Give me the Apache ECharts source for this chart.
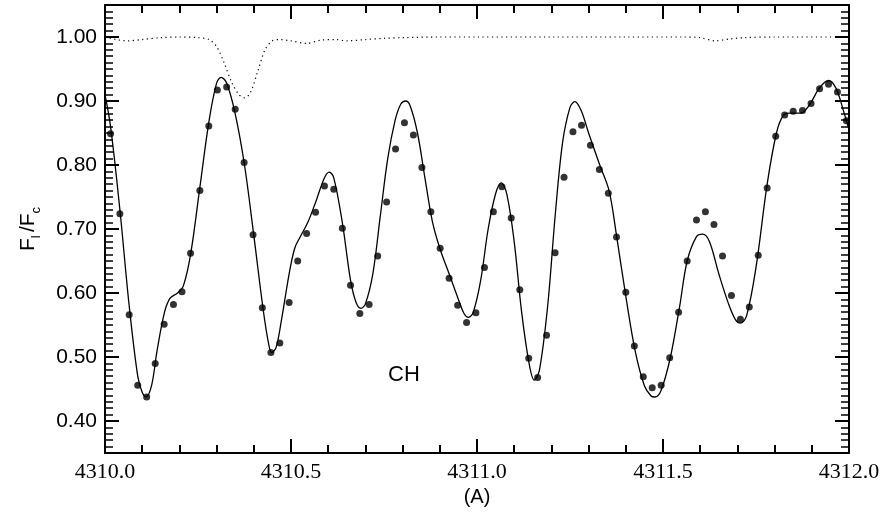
<!DOCTYPE html>
<html>
<head>
<meta charset="utf-8">
<script src="https://cdn.jsdelivr.net/npm/echarts@6/dist/echarts.min.js"></script>
<style>html,body{margin:0;padding:0;background:#fff}#c{width:890px;height:518px}</style>
</head>
<body>
<div id="c"></div>
<script>
// Observed spectrum (dots)
const obsX = [4310.015,4310.040,4310.065,4310.088,4310.112,4310.135,4310.159,4310.184,4310.207,4310.230,4310.255,4310.279,4310.302,4310.327,4310.350,4310.374,4310.398,4310.423,4310.446,4310.470,4310.495,4310.518,4310.542,4310.566,4310.590,4310.615,4310.638,4310.660,4310.685,4310.710,4310.733,4310.757,4310.781,4310.805,4310.829,4310.852,4310.876,4310.901,4310.925,4310.948,4310.972,4310.997,4311.020,4311.044,4311.067,4311.092,4311.115,4311.139,4311.163,4311.187,4311.210,4311.234,4311.258,4311.281,4311.305,4311.329,4311.353,4311.375,4311.400,4311.423,4311.447,4311.471,4311.495,4311.518,4311.542,4311.565,4311.590,4311.614,4311.637,4311.660,4311.684,4311.708,4311.732,4311.756,4311.780,4311.803,4311.827,4311.850,4311.875,4311.898,4311.921,4311.945,4311.969,4311.993];
const obsY = [0.849,0.724,0.566,0.456,0.4375,0.490,0.551,0.582,0.602,0.662,0.760,0.861,0.917,0.922,0.887,0.804,0.691,0.577,0.507,0.522,0.585,0.650,0.693,0.726,0.767,0.762,0.701,0.612,0.568,0.582,0.658,0.742,0.825,0.866,0.847,0.796,0.727,0.670,0.623,0.581,0.554,0.569,0.640,0.727,0.766,0.717,0.605,0.498,0.468,0.534,0.663,0.781,0.852,0.862,0.831,0.793,0.756,0.6875,0.601,0.517,0.469,0.452,0.456,0.499,0.570,0.650,0.714,0.727,0.707,0.658,0.596,0.559,0.578,0.659,0.764,0.845,0.878,0.884,0.885,0.896,0.919,0.926,0.914,0.869];

// Synthetic spectrum (solid line)
const synX = [4310.000,4310.015,4310.040,4310.065,4310.088,4310.100,4310.110,4310.125,4310.140,4310.160,4310.175,4310.195,4310.210,4310.230,4310.255,4310.280,4310.300,4310.312,4310.327,4310.350,4310.375,4310.400,4310.425,4310.440,4310.448,4310.460,4310.475,4310.495,4310.510,4310.525,4310.545,4310.565,4310.590,4310.603,4310.615,4310.638,4310.660,4310.675,4310.688,4310.700,4310.720,4310.740,4310.760,4310.780,4310.795,4310.808,4310.820,4310.840,4310.860,4310.880,4310.900,4310.925,4310.950,4310.965,4310.977,4310.990,4311.010,4311.030,4311.050,4311.065,4311.080,4311.100,4311.120,4311.140,4311.154,4311.168,4311.190,4311.210,4311.230,4311.250,4311.263,4311.280,4311.300,4311.330,4311.355,4311.375,4311.400,4311.425,4311.450,4311.468,4311.478,4311.495,4311.520,4311.545,4311.565,4311.590,4311.607,4311.625,4311.650,4311.675,4311.695,4311.709,4311.725,4311.750,4311.780,4311.805,4311.823,4311.840,4311.870,4311.895,4311.920,4311.945,4311.965,4311.985,4312.000];
const synY = [0.910,0.860,0.730,0.580,0.470,0.445,0.438,0.455,0.510,0.570,0.592,0.600,0.610,0.660,0.765,0.870,0.928,0.937,0.928,0.880,0.800,0.690,0.575,0.520,0.507,0.515,0.560,0.630,0.670,0.688,0.710,0.740,0.780,0.789,0.780,0.710,0.620,0.585,0.576,0.583,0.630,0.720,0.810,0.870,0.895,0.900,0.893,0.850,0.780,0.712,0.670,0.630,0.590,0.568,0.562,0.570,0.620,0.700,0.755,0.772,0.755,0.680,0.570,0.490,0.464,0.480,0.580,0.720,0.835,0.890,0.899,0.885,0.850,0.800,0.760,0.690,0.595,0.510,0.455,0.439,0.4375,0.448,0.500,0.580,0.650,0.688,0.692,0.680,0.630,0.585,0.558,0.553,0.565,0.640,0.770,0.850,0.877,0.881,0.881,0.895,0.920,0.932,0.920,0.885,0.855];

// Reference spectrum (dotted line)
const telX = [4310.00,4310.03,4310.06,4310.10,4310.15,4310.20,4310.25,4310.28,4310.30,4310.32,4310.34,4310.36,4310.375,4310.39,4310.41,4310.43,4310.45,4310.47,4310.50,4310.54,4310.58,4310.62,4310.65,4310.70,4310.75,4310.80,4310.90,4311.00,4311.20,4311.40,4311.55,4311.60,4311.64,4311.68,4311.72,4311.80,4312.00];
const telY = [1.000,0.996,0.994,0.996,0.999,1.000,0.999,0.996,0.985,0.960,0.930,0.910,0.905,0.912,0.945,0.980,0.994,0.996,0.994,0.990,0.995,0.996,0.994,0.996,0.998,0.999,1.000,1.000,1.000,1.000,1.000,0.999,0.994,0.997,0.999,1.000,1.000];

// Axis ticks / labels
const xMin = 4310.0, xMax = 4312.0;
const xMajorTicks = [4310.0, 4310.5, 4311.0, 4311.5, 4312.0];
const xMinorStep = 0.1;
const yMin = 0.35, yMax = 1.05;
const yMajorTicks = [0.40, 0.50, 0.60, 0.70, 0.80, 0.90, 1.00];
const yMinorStep = 0.01;
const annotation = 'CH';

const zip = (a, b) => a.map((v, i) => [v, b[i]]);
const chart = echarts.init(document.getElementById('c'), null, {renderer: 'canvas'});

const tickLine = {color: '#000', width: 2};
const majorX = (pos, show) => ({
  type: 'value', min: xMin, max: xMax, position: pos,
  axisLine: {show: true, onZero: false, lineStyle: {color: '#000', width: 2}},
  axisTick: {show: true, inside: true, length: 14, customValues: xMajorTicks, lineStyle: tickLine},
  minorTick: {show: false},
  splitLine: {show: false},
  axisLabel: {show: show, margin: 8, color: '#000', fontFamily: 'Liberation Serif, serif', fontSize: 22,
    customValues: xMajorTicks, formatter: v => v.toFixed(1)}
});
const minorX = (pos) => ({
  type: 'value', min: xMin, max: xMax, interval: xMinorStep, position: pos,
  axisLine: {show: false, onZero: false},
  axisTick: {show: true, inside: true, length: 8, lineStyle: tickLine},
  minorTick: {show: false},
  splitLine: {show: false}, axisLabel: {show: false}
});
const majorY = (pos, show) => ({
  type: 'value', min: yMin, max: yMax, position: pos,
  axisLine: {show: true, onZero: false, lineStyle: {color: '#000', width: 2}},
  axisTick: {show: true, inside: true, length: 14, customValues: yMajorTicks, lineStyle: tickLine},
  minorTick: {show: false},
  splitLine: {show: false},
  axisLabel: {show: show, margin: 8, color: '#000', fontFamily: 'Liberation Sans, Arial, sans-serif', fontSize: 21,
    customValues: yMajorTicks, formatter: v => v.toFixed(2)}
});
const minorY = (pos) => ({
  type: 'value', min: yMin, max: yMax, interval: yMinorStep, position: pos,
  axisLine: {show: false, onZero: false},
  axisTick: {show: true, inside: true, length: 8, lineStyle: {color: '#000', width: 1.5}},
  minorTick: {show: false},
  splitLine: {show: false}, axisLabel: {show: false}
});

const xAxes = [majorX('bottom', true), majorX('top', false), minorX('bottom'), minorX('top')];
xAxes[0].name = '(A)';
xAxes[0].nameLocation = 'middle';
xAxes[0].nameGap = 29;
xAxes[0].nameTextStyle = {color: '#000', fontFamily: 'Liberation Sans Narrow, Liberation Sans, sans-serif', fontSize: 20};

const yAxes = [majorY('left', true), majorY('right', false), minorY('left'), minorY('right')];
yAxes[0].name = '{f|F}{s|l} {f|/F}{s|c}';
yAxes[0].nameLocation = 'middle';
yAxes[0].nameRotate = 90;
yAxes[0].nameGap = 62;
yAxes[0].nameTextStyle = {color: '#000', rich: {
  f: {fontFamily: 'Liberation Sans, Arial, sans-serif', fontSize: 21, color: '#000', lineHeight: 30, verticalAlign: 'middle'},
  s: {fontFamily: 'Liberation Sans, Arial, sans-serif', fontSize: 13, color: '#000', lineHeight: 30, verticalAlign: 'bottom'}}};

chart.setOption({
  animation: false,
  backgroundColor: '#fff',
  grid: {left: 105, right: 41, top: 5, bottom: 65, containLabel: false},
  xAxis: xAxes,
  yAxis: yAxes,
  series: [
    {type: 'line', data: zip(telX, telY), smooth: 0.3, showSymbol: false, symbol: 'none',
     lineStyle: {color: '#000', width: 1.2, type: [1.2, 3.5]}, xAxisIndex: 0, yAxisIndex: 0},
    {type: 'line', data: zip(synX, synY), smooth: 0.35, showSymbol: false, symbol: 'none',
     lineStyle: {color: '#000', width: 1.3}, xAxisIndex: 0, yAxisIndex: 0},
    {type: 'scatter', data: zip(obsX, obsY), symbol: 'circle', symbolSize: 7,
     itemStyle: {color: '#000'}, xAxisIndex: 0, yAxisIndex: 0}
  ],
  graphic: [
    {type: 'text', left: 388, top: 364, style: {text: annotation, fill: '#000', font: '22px "Liberation Sans", Arial, sans-serif'}}
  ]
});
</script>
</body>
</html>
